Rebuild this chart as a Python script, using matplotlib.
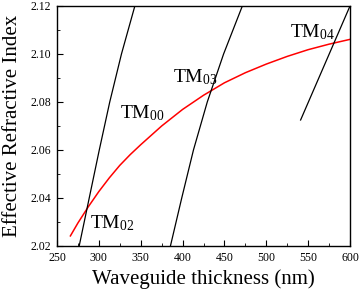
import numpy as np
import matplotlib.pyplot as plt
from matplotlib.ticker import MultipleLocator

plt.rcParams['font.family'] = ['Liberation Serif', 'DejaVu Serif']
plt.rcParams['mathtext.fontset'] = 'custom'
plt.rcParams['mathtext.rm'] = 'Liberation Serif'
plt.rcParams['mathtext.it'] = 'Liberation Serif:italic'

# TM00 (red)
tm00_x = [266, 275, 287.5, 300, 312.5, 325, 337.5, 350, 375, 400, 425,
          450, 475, 500, 525, 550, 575, 600]
tm00_y = [2.0242, 2.0296, 2.0364, 2.0427, 2.0484, 2.0536, 2.0581, 2.0622,
          2.0700, 2.0769, 2.0828, 2.0880, 2.0922, 2.0958, 2.0990, 2.1018,
          2.1041, 2.1061]

# TM02
tm02_x = [276.5, 288.5, 300.5, 313, 327, 343]
tm02_y = [2.02, 2.04, 2.06, 2.08, 2.10, 2.12]

# TM03
tm03_x = [385.5, 399, 413, 429.5, 449, 471.4]
tm03_y = [2.02, 2.04, 2.06, 2.08, 2.10, 2.12]

# TM04
tm04_x = [541, 600]
tm04_y = [2.0725, 2.12]

fig = plt.figure(figsize=(3.6, 2.92), dpi=100)
ax = fig.add_axes([57 / 360, 1 - 246 / 292, 293 / 360, 240 / 292])

ax.plot(tm00_x, tm00_y, color='red', lw=1.1)
for xs, ys in [(tm02_x, tm02_y), (tm03_x, tm03_y), (tm04_x, tm04_y)]:
    ax.plot(xs, ys, color='black', lw=0.9)

ax.set_xlim(250, 600)
ax.set_ylim(2.02, 2.12)
ax.xaxis.set_major_locator(MultipleLocator(50))
ax.xaxis.set_minor_locator(MultipleLocator(25))
ax.yaxis.set_major_locator(MultipleLocator(0.02))
ax.yaxis.set_minor_locator(MultipleLocator(0.01))
ax.tick_params(which='both', direction='in', top=False, right=False,
               labelsize=8.5, pad=4)
ax.tick_params(which='major', length=4)
ax.tick_params(which='minor', length=2)
for s in ax.spines.values():
    s.set_linewidth(1.0)
ax.yaxis.set_major_formatter(plt.FormatStrFormatter('%.2f'))

ax.set_xlabel('Waveguide thickness (nm)', fontsize=15, labelpad=4)
ax.set_ylabel('Effective Refractive Index', fontsize=15, labelpad=6)

ax.text(325, 2.0733, r'TM$_{00}$', fontsize=14)
ax.text(289.5, 2.0275, r'TM$_{02}$', fontsize=14)
ax.text(388, 2.0883, r'TM$_{03}$', fontsize=14)
ax.text(528, 2.107, r'TM$_{04}$', fontsize=14)

fig.savefig('out.png', dpi=100)
